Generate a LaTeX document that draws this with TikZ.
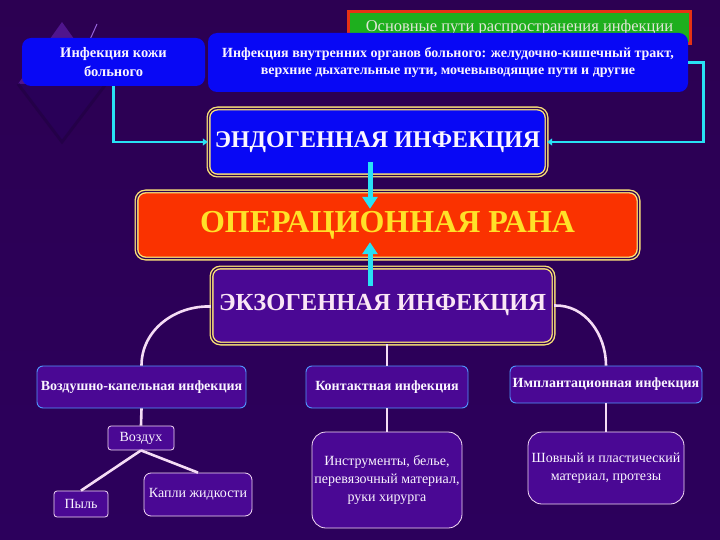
\documentclass[tikz,border=0pt]{standalone}
\usepackage{fontspec}
\setmainfont{Liberation Serif}
\usetikzlibrary{arrows.meta,calc}
\definecolor{bgtop}{RGB}{44,0,82}
\definecolor{bgmid}{RGB}{76,8,150}
\definecolor{bgbot}{RGB}{44,0,92}
\definecolor{boxblue}{RGB}{8,8,245}
\definecolor{boxred}{RGB}{250,50,0}
\definecolor{boxpurple}{RGB}{74,8,148}
\definecolor{gold}{RGB}{250,225,120}
\definecolor{cyanline}{RGB}{40,225,245}
\definecolor{pinkline}{RGB}{245,220,245}
\definecolor{lblue}{RGB}{80,150,255}
\definecolor{titlered}{RGB}{230,50,20}
\definecolor{titlegreen}{RGB}{30,175,30}
\definecolor{titletext}{RGB}{225,230,215}
\definecolor{txtwhite}{RGB}{250,245,255}
\definecolor{optext}{RGB}{255,225,40}
\definecolor{exotext}{RGB}{250,230,245}
\definecolor{diamup}{RGB}{110,40,190}
\definecolor{diamdown}{RGB}{40,0,90}
\definecolor{diamedge}{RGB}{35,0,70}
\definecolor{sparkle}{RGB}{150,100,220}
\tikzset{
  bluebox/.style={rectangle, rounded corners=9pt, fill=boxblue, text=txtwhite, font=\bfseries, align=center, inner sep=2pt},
  framebox/.style={rectangle, rounded corners=9pt, draw=gold, line width=1.4pt, double=bgtop, double distance=1.2pt, align=center, inner sep=2pt},
  catbox/.style={rectangle, rounded corners=6pt, draw=lblue, line width=0.9pt, fill=boxpurple, text=txtwhite, font=\bfseries\fontsize{14}{16}\selectfont, align=center, inner sep=1pt},
  leafbox/.style={rectangle, rounded corners=5pt, draw=pinkline, line width=0.8pt, fill=boxpurple, text=txtwhite, font=\fontsize{14}{18}\selectfont, align=center, inner sep=1pt},
  bigarrow/.style={draw=cyanline, line width=5pt, -{Triangle[width=15pt,length=12pt]}},
  cyanlink/.style={draw=cyanline, line width=2.6pt, -{Triangle[width=7pt,length=5pt]}},
  pinklink/.style={draw=pinkline, line width=2.6pt},
}
\begin{document}
\begin{tikzpicture}[x=1pt,y=-1pt]
\useasboundingbox (0,0) rectangle (720,540);
\shade[top color=bgtop, middle color=bgmid, bottom color=bgbot] (0,0) rectangle (720,540);
% decorative diamond
\fill[diamup, opacity=0.55] (62,22) -- (106,84) -- (18,84) -- cycle;
\fill[diamdown, opacity=0.7] (18,84) -- (106,84) -- (62,142) -- cycle;
\draw[diamedge, line width=3pt, opacity=0.8] (18,84) -- (62,142) -- (106,84);
\draw[sparkle, line width=1pt] (97,24) -- (88,44);
% title
\node[rectangle, draw=titlered, line width=3.5pt, fill=titlegreen, text=titletext, font=\fontsize{16.5}{18}\selectfont, minimum width=342pt, minimum height=32pt, inner sep=1pt] (title) at (519.5,27.5) {Основные пути распространения инфекции};
% top blue boxes
\node[bluebox, minimum width=183pt, minimum height=48pt, font=\bfseries\fontsize{14.5}{18}\selectfont] (kozhi) at (113.5,62) {Инфекция кожи\\[1pt]больного};
\node[bluebox, minimum width=480pt, minimum height=59pt, font=\bfseries\fontsize{14}{17}\selectfont] (vnutr) at (448,62.5) {Инфекция внутренних органов больного: желудочно-кишечный тракт,\\верхние дыхательные пути, мочевыводящие пути и другие};
% central boxes
\node[framebox, fill=boxblue, text=txtwhite, font=\bfseries\fontsize{24}{26}\selectfont, minimum width=338pt, minimum height=67pt] (endo) at (377.5,142) {ЭНДОГЕННАЯ ИНФЕКЦИЯ};
\node[framebox, fill=boxred, text=optext, font=\bfseries\fontsize{32}{34}\selectfont, minimum width=502pt, minimum height=67pt] (op) at (387.5,225) {ОПЕРАЦИОННАЯ РАНА};
\node[framebox, fill=boxpurple, text=exotext, font=\bfseries\fontsize{24.5}{26}\selectfont, minimum width=342pt, minimum height=76pt] (exo) at (382.5,305.5) {ЭКЗОГЕННАЯ ИНФЕКЦИЯ};
% category boxes
\node[catbox, minimum width=209pt, minimum height=42pt] (vozd) at (141.5,387) {Воздушно-капельная инфекция};
\node[catbox, minimum width=162pt, minimum height=42pt] (kont) at (387,387) {Контактная инфекция};
\node[catbox, minimum width=192pt, minimum height=37pt] (impl) at (606,384.5) {Имплантационная инфекция};
% leaf boxes
\node[leafbox, rounded corners=3pt, minimum width=66pt, minimum height=24pt] (vozdukh) at (141,438) {Воздух};
\node[leafbox, rounded corners=3pt, minimum width=54pt, minimum height=26pt] (pyl) at (81,504) {Пыль};
\node[leafbox, rounded corners=7pt, minimum width=108pt, minimum height=43pt] (kapli) at (198,494.5) {Капли жидкости};
\node[leafbox, rounded corners=14pt, minimum width=150pt, minimum height=96pt] (instr) at (387,480) {Инструменты, белье,\\перевязочный материал,\\руки хирурга};
\node[leafbox, rounded corners=14pt, minimum width=156pt, minimum height=72pt] (shov) at (606,468) {Шовный и пластический\\материал, протезы};
% cyan connectors
\draw[cyanlink] (kozhi.south) |- (endo.west);
\draw[cyanlink] (vnutr.east) -- ++(15,0) |- (endo.east);
\draw[bigarrow] ([xshift=-7.5pt,yshift=14pt]endo.south) -- ([xshift=-17.5pt,yshift=-18pt]op.north);
\draw[bigarrow] ([xshift=-12.5pt,yshift=-19pt]exo.north) -- ([xshift=-17.5pt,yshift=17pt]op.south);
% pink connectors
\draw[pinklink] ([yshift=-1pt]exo.west) to[out=178,in=90] (vozd.north);
\draw[pinklink] (exo.east) to[out=2,in=90] (impl.north);
\draw[pinklink] (exo.south -| kont.north) -- (kont.north);
\draw[pinklink] (vozd.south) -- (vozdukh.north);
\draw[pinklink] (vozdukh.south) -- (pyl.north);
\draw[pinklink] (vozdukh.south) -- (kapli.north);
\draw[pinklink] (kont.south) -- (instr.north);
\draw[pinklink] (impl.south) -- (shov.north);
\end{tikzpicture}
\end{document}
